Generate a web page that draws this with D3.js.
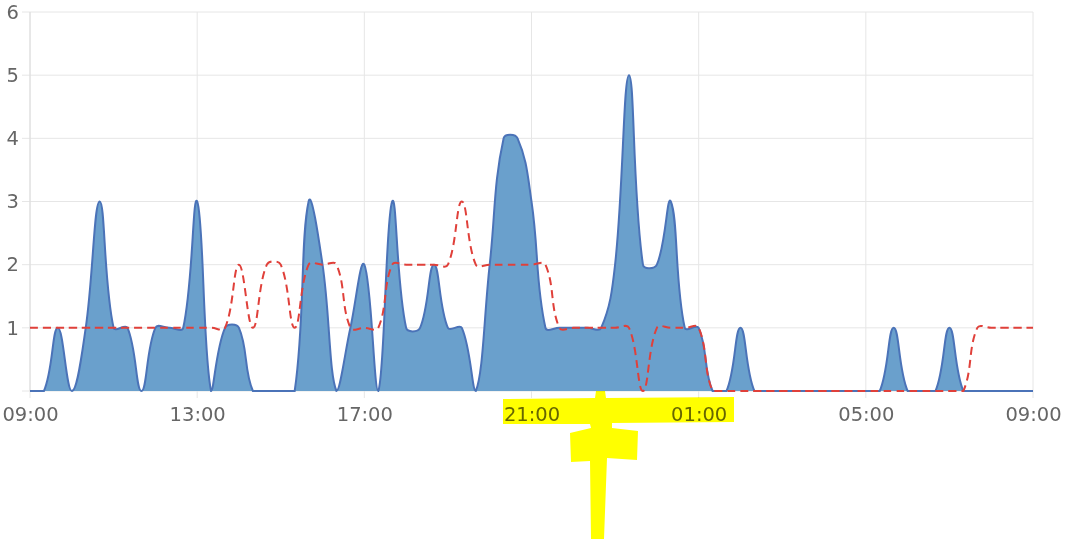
<!DOCTYPE html>
<html>
<head>
<meta charset="utf-8">
<script src="https://cdn.jsdelivr.net/npm/d3@7"></script>
<style>
  body { margin: 0; background: #fff; }
  svg { display: block; }
  .tick text { font-family: "DejaVu Sans", sans-serif; }
</style>
</head>
<body>
<div id="chart"></div>
<script>
// values every 20 minutes, 09:00 -> 09:00 next day
let startTime = new Date(2020, 0, 1, 9, 0);
let endTime = new Date(2020, 0, 2, 9, 0);

let blueValues = [
  0, 0, 1, 0, 1, 3, 1, 1, 0, 1, 1, 1,   // 09:00 - 12:40
  3, 0, 1, 1, 0, 0, 0, 0, 3, 2, 0, 1,   // 13:00 - 16:40
  2, 0, 3, 1, 1, 2, 1, 1, 0, 2, 4, 4,   // 17:00 - 20:40
  3, 1, 1, 1, 1, 1, 2, 5, 2, 2, 3, 1,   // 21:00 - 00:40
  1, 0, 0, 1, 0, 0, 0, 0, 0, 0, 0, 0,   // 01:00 - 04:40
  0, 0, 1, 0, 0, 0, 1, 0, 0, 0, 0, 0,   // 05:00 - 08:40
  0                                     // 09:00
];

let redValues = [
  1, 1, 1, 1, 1, 1, 1, 1, 1, 1, 1, 1,
  1, 1, 1, 2, 1, 2, 2, 1, 2, 2, 2, 1,
  1, 1, 2, 2, 2, 2, 2, 3, 2, 2, 2, 2,
  2, 2, 1, 1, 1, 1, 1, 1, 0, 1, 1, 1,
  1, 0, 0, 0, 0, 0, 0, 0, 0, 0, 0, 0,
  0, 0, 0, 0, 0, 0, 0, 0, 1, 1, 1, 1,
  1
];

let yTickValues = [1, 2, 3, 4, 5, 6];

let times = d3.timeMinute.every(20).range(startTime, new Date(+endTime + 1));

let svgWidth = 1065;
let svgHeight = 539;
let margin = {top: 12, right: 32, bottom: 148, left: 30};
let plotW = svgWidth - margin.left - margin.right;
let plotH = svgHeight - margin.top - margin.bottom;

let viz = d3.select("#chart")
  .append("svg")
    .attr("width", svgWidth)
    .attr("height", svgHeight);

let x = d3.scaleTime().domain([startTime, endTime]).range([0, plotW]);
let y = d3.scaleLinear().domain([0, 6]).range([plotH, 0]);

let g = viz.append("g")
  .attr("transform", "translate(" + margin.left + "," + margin.top + ")");

// spline like the original chart library (tension 0.4, clamped to plot)
function SplineCurve(context) { this._context = context; }
SplineCurve.prototype = {
  areaStart: function() { this._line = 0; },
  areaEnd: function() { this._line = NaN; },
  lineStart: function() { this._xs = []; this._ys = []; },
  point: function(px, py) { this._xs.push(+px); this._ys.push(+py); },
  lineEnd: function() {
    let xs = this._xs, ys = this._ys, n = xs.length, t = 0.4;
    if (n) {
      if (this._line) this._context.lineTo(xs[0], ys[0]);
      else this._context.moveTo(xs[0], ys[0]);
      let cps = [];
      for (let i = 0; i < n; i++) {
        let p = i > 0 ? i - 1 : i;
        let q = i < n - 1 ? i + 1 : i;
        let d01 = Math.hypot(xs[i] - xs[p], ys[i] - ys[p]);
        let d12 = Math.hypot(xs[q] - xs[i], ys[q] - ys[i]);
        let s01 = d01 / (d01 + d12), s12 = d12 / (d01 + d12);
        if (isNaN(s01)) s01 = 0;
        if (isNaN(s12)) s12 = 0;
        let fa = t * s01, fb = t * s12;
        let clampY = v => Math.max(0, Math.min(plotH, v));
        cps.push({
          px: xs[i] - fa * (xs[q] - xs[p]),
          py: clampY(ys[i] - fa * (ys[q] - ys[p])),
          nx: xs[i] + fb * (xs[q] - xs[p]),
          ny: clampY(ys[i] + fb * (ys[q] - ys[p]))
        });
      }
      for (let i = 1; i < n; i++) {
        this._context.bezierCurveTo(cps[i-1].nx, cps[i-1].ny, cps[i].px, cps[i].py, xs[i], ys[i]);
      }
    }
    if (this._line || (this._line !== 0 && n === 1)) this._context.closePath();
    this._line = 1 - this._line;
  }
};
function splineCurve(context) { return new SplineCurve(context); }

// grid
g.append("g")
  .selectAll("line")
  .data(d3.range(0, 7))
  .join("line")
    .attr("x1", -8)
    .attr("x2", plotW)
    .attr("y1", d => y(d))
    .attr("y2", d => y(d))
    .attr("stroke", "#e6e6e6")
    .attr("stroke-width", 1);

let xTicks = d3.timeHour.range(startTime, new Date(+endTime + 1), 4);

g.append("g")
  .selectAll("line")
  .data(xTicks)
  .join("line")
    .attr("x1", d => x(d))
    .attr("x2", d => x(d))
    .attr("y1", 0)
    .attr("y2", plotH + 7)
    .attr("stroke", "#e6e6e6")
    .attr("stroke-width", 1);

// axes labels
let yAxis = d3.axisLeft(y).tickValues(yTickValues).tickSize(0).tickPadding(11)
  .tickFormat(d3.format("d"));
let yG = g.append("g").call(yAxis);
yG.select(".domain").remove();
yG.selectAll("text").attr("font-size", 19.5).attr("fill", "#666");

let xAxis = d3.axisBottom(x).tickValues(xTicks).tickSize(0).tickPadding(16)
  .tickFormat(d3.timeFormat("%H:%M"));
let xG = g.append("g").attr("transform", "translate(0," + plotH + ")").call(xAxis);
xG.select(".domain").remove();
xG.selectAll("text").attr("font-size", 19.5).attr("fill", "#666");

g.append("line")
  .attr("x1", 0).attr("x2", 0)
  .attr("y1", 0).attr("y2", plotH)
  .attr("stroke", "#dcdcdc");

// blue area
let area = d3.area()
  .x((d, i) => x(times[i]))
  .y0(y(0))
  .y1(d => y(d))
  .curve(splineCurve);

let line = d3.line()
  .x((d, i) => x(times[i]))
  .y(d => y(d))
  .curve(splineCurve);

g.append("path")
  .datum(blueValues)
  .attr("d", area)
  .attr("fill", "#6aa0cc");

g.append("path")
  .datum(blueValues)
  .attr("d", line)
  .attr("fill", "none")
  .attr("stroke", "#4b73b8")
  .attr("stroke-width", 2);

// red dashed line
g.append("path")
  .datum(redValues)
  .attr("d", line)
  .attr("fill", "none")
  .attr("stroke", "#e0403a")
  .attr("stroke-width", 2)
  .attr("stroke-dasharray", "8,5");

// yellow marker scribble on top of the labels
let markerShape = [
  [503, 399], [595, 398], [596, 391], [605, 391], [606, 398], [734, 397],
  [734, 422], [612, 423], [612, 428], [638, 431], [637, 460], [607, 458],
  [604, 539], [591, 539], [590, 461], [571, 462], [570, 433], [591, 428],
  [590, 424], [503, 424]
];
viz.append("path")
  .datum(markerShape)
  .attr("d", d3.line())
  .attr("fill", "#ffff00")
  .style("mix-blend-mode", "multiply");
</script>
</body>
</html>
